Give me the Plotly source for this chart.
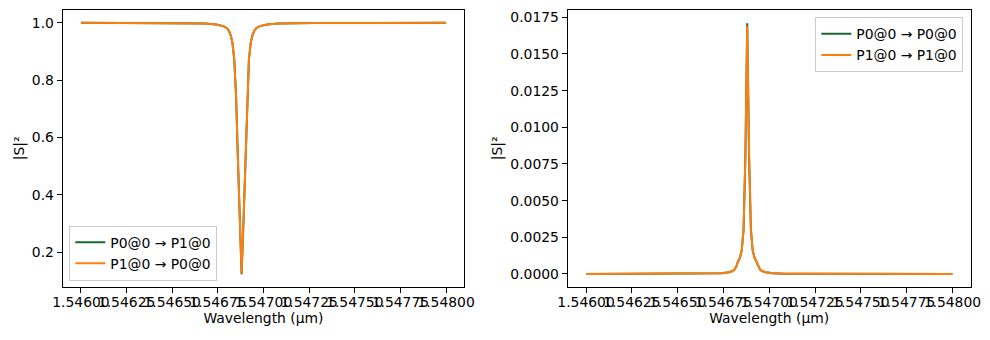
import plotly.graph_objects as go

# ---- data ----
wavelength_um = [1.54600, 1.54630, 1.54648, 1.54668, 1.54674, 1.54678, 1.54680,
                 1.54681, 1.54682, 1.54683, 1.54684, 1.54685, 1.54686, 1.54687,
                 1.54688, 1.54689, 1.54690, 1.54691, 1.54692, 1.54693, 1.54694,
                 1.54695, 1.54696, 1.54698, 1.54702, 1.54708, 1.54728, 1.54760,
                 1.54800]

t_p0_p1 = [0.9995, 0.9993, 0.999, 0.997, 0.994, 0.988, 0.981, 0.972, 0.957, 0.93,
           0.87, 0.74, 0.52, 0.30, 0.123, 0.30, 0.52, 0.74, 0.87, 0.93, 0.957,
           0.972, 0.981, 0.988, 0.994, 0.997, 0.999, 0.9993, 0.9995]
t_p1_p0 = [0.9995, 0.9993, 0.999, 0.997, 0.994, 0.988, 0.981, 0.972, 0.957, 0.93,
           0.87, 0.74, 0.52, 0.30, 0.125, 0.30, 0.52, 0.74, 0.87, 0.93, 0.957,
           0.972, 0.981, 0.988, 0.994, 0.997, 0.999, 0.9993, 0.9995]

r_p0_p0 = [0.0, 0.0, 0.00001, 0.00002, 0.00005, 0.00012, 0.0002, 0.0003, 0.0005,
           0.00085, 0.0011, 0.0016, 0.0030, 0.0080, 0.0171, 0.0080, 0.0030, 0.0016,
           0.0011, 0.00085, 0.0005, 0.0003, 0.0002, 0.00012, 0.00005, 0.00002,
           0.00001, 0.0, 0.0]
r_p1_p1 = [0.0, 0.0, 0.00001, 0.00002, 0.00005, 0.00012, 0.0002, 0.0003, 0.0005,
           0.00085, 0.0011, 0.0016, 0.0030, 0.0080, 0.0169, 0.0085, 0.0031, 0.0016,
           0.0011, 0.00085, 0.0005, 0.0003, 0.0002, 0.00012, 0.00005, 0.00002,
           0.00001, 0.0, 0.0]

left_names = ["P0@0 \u2192 P1@0", "P1@0 \u2192 P0@0"]
right_names = ["P0@0 \u2192 P0@0", "P1@0 \u2192 P1@0"]

GREEN = "#1b6633"
ORANGE = "#ff7f0e"
FONT = "DejaVu Sans"
FS = 13.9

fig = go.Figure()
fig.add_trace(go.Scatter(x=wavelength_um, y=t_p0_p1, mode="lines", name=left_names[0],
                         line=dict(color=GREEN, width=2), xaxis="x", yaxis="y", legend="legend"))
fig.add_trace(go.Scatter(x=wavelength_um, y=t_p1_p0, mode="lines", name=left_names[1],
                         line=dict(color=ORANGE, width=2), xaxis="x", yaxis="y", legend="legend"))
fig.add_trace(go.Scatter(x=wavelength_um, y=r_p0_p0, mode="lines", name=right_names[0],
                         line=dict(color=GREEN, width=2), xaxis="x2", yaxis="y2", legend="legend2"))
fig.add_trace(go.Scatter(x=wavelength_um, y=r_p1_p1, mode="lines", name=right_names[1],
                         line=dict(color=ORANGE, width=2), xaxis="x2", yaxis="y2", legend="legend2"))

W, H = 990, 340
axis_common = dict(showline=True, linecolor="black", linewidth=1, mirror=True,
                   ticks="outside", ticklen=5, tickwidth=1, tickcolor="black",
                   showgrid=False, zeroline=False, automargin=False,
                   tickfont=dict(family=FONT, size=FS, color="black"))

xcommon = dict(axis_common, range=[1.5459, 1.5481], tickmode="linear", tick0=1.546,
               dtick=0.00025, tickformat=".5f", tickangle=0, ticklabelstandoff=-2,
               title=dict(text="Wavelength (\u00b5m)", standoff=3,
                          font=dict(family=FONT, size=FS, color="black")))

fig.update_layout(
    width=W, height=H,
    autosize=False,
    margin=dict(l=0, r=0, t=0, b=0, autoexpand=False),
    paper_bgcolor="white", plot_bgcolor="white",
    font=dict(family=FONT, size=FS, color="black"),
    xaxis=dict(xcommon, domain=[62.7 / W, 464.3 / W], anchor="y"),
    xaxis2=dict(xcommon, domain=[567.7 / W, 970.7 / W], anchor="y2"),
    yaxis=dict(axis_common, domain=[1 - 286.7 / H, 1 - 10 / H], anchor="x",
               range=[0.0792, 1.0443], tickmode="linear", tick0=0.2, dtick=0.2,
               tickformat=".1f",
               title=dict(text="|S|\u00b2", standoff=3,
                          font=dict(family=FONT, size=FS, color="black"))),
    yaxis2=dict(axis_common, domain=[1 - 286.7 / H, 1 - 10 / H], anchor="x2",
                range=[-0.00087, 0.0180], tickmode="linear", tick0=0, dtick=0.0025,
                tickformat=".4f",
                title=dict(text="|S|\u00b2", standoff=4,
                           font=dict(family=FONT, size=FS, color="black"))),
    legend=dict(x=69.3 / W, y=1 - 280.7 / H, xanchor="left", yanchor="bottom",
                bgcolor="rgba(255,255,255,0.8)", bordercolor="#cccccc", borderwidth=1,
                font=dict(family=FONT, size=FS, color="black")),
    legend2=dict(x=963.3 / W, y=1 - 17.3 / H, xanchor="right", yanchor="top",
                 bgcolor="rgba(255,255,255,0.8)", bordercolor="#cccccc", borderwidth=1,
                 font=dict(family=FONT, size=FS, color="black")),
    showlegend=True,
)

fig.write_html("out.html")
